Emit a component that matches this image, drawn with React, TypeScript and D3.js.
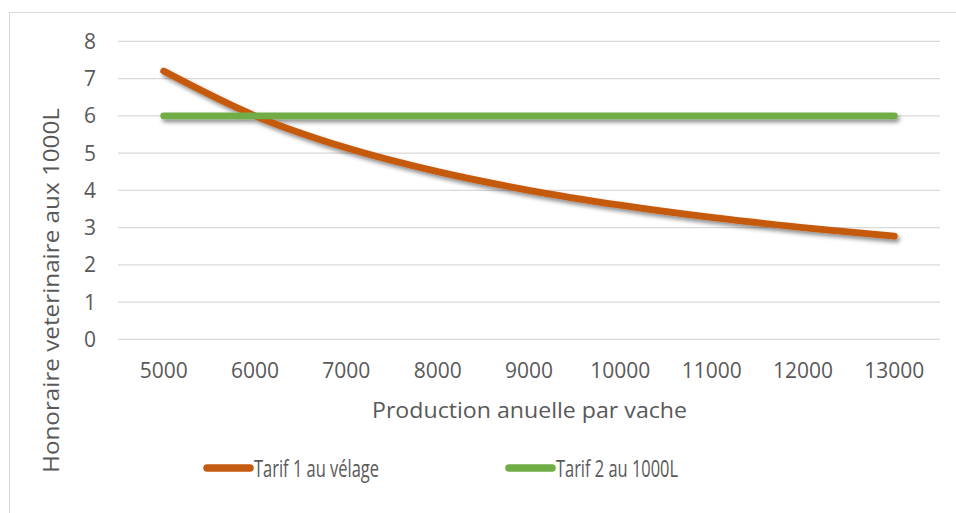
import React, { useEffect, useRef } from 'react';
import * as d3 from 'd3';

const productions = [5000, 6000, 7000, 8000, 9000, 10000, 11000, 12000, 13000];
const tarif1 = [7.2, 6.0, 5.14, 4.5, 4.0, 3.6, 3.27, 3.0, 2.77];
const tarif2 = [6, 6, 6, 6, 6, 6, 6, 6, 6];
const yTicks = [0, 1, 2, 3, 4, 5, 6, 7, 8];

const seriesNames = ['Tarif 1 au vélage', 'Tarif 2 au 1000L'];
const seriesColors = ['#C55A11', '#70AD47'];

const W = 956;
const H = 513;
const FONT = '"Open Sans", "Liberation Sans", sans-serif';
const TEXT = '#595959';

export default function App() {
  const svgRef = useRef<SVGSVGElement>(null);

  useEffect(() => {
    if (!svgRef.current) return;
    const svg = d3.select(svgRef.current);
    svg.selectAll('*').remove();

    const plot = { left: 118, right: 940, top: 41.3, bottom: 339.3 };

    const defs = svg.append('defs');
    const filter = defs.append('filter')
      .attr('id', 'shadow')
      .attr('x', '-10%').attr('y', '-30%')
      .attr('width', '120%').attr('height', '160%');
    filter.append('feDropShadow')
      .attr('dx', 2).attr('dy', 3)
      .attr('stdDeviation', 2.2)
      .attr('flood-color', '#000')
      .attr('flood-opacity', 0.45);

    // background + chart border
    svg.append('rect').attr('width', W).attr('height', H).attr('fill', '#fff');
    svg.append('rect')
      .attr('x', 9.5).attr('y', 12.5)
      .attr('width', 980).attr('height', 540)
      .attr('fill', 'none')
      .attr('stroke', '#D9D9D9')
      .attr('stroke-width', 1);

    const x = d3.scaleBand<number>()
      .domain(productions)
      .range([plot.left, plot.right]);
    const cx = (d: number) => (x(d) || 0) + x.bandwidth() / 2;

    const y = d3.scaleLinear()
      .domain([0, 8])
      .range([plot.bottom, plot.top]);

    // gridlines
    svg.append('g')
      .selectAll('line')
      .data(yTicks)
      .enter()
      .append('line')
      .attr('x1', plot.left).attr('x2', plot.right)
      .attr('y1', d => y(d)).attr('y2', d => y(d))
      .attr('stroke', '#D9D9D9')
      .attr('stroke-width', 1.3);

    // y tick labels
    svg.append('g')
      .selectAll('text')
      .data(yTicks)
      .enter()
      .append('text')
      .attr('x', 96)
      .attr('y', d => y(d))
      .attr('dy', '0.36em')
      .attr('text-anchor', 'end')
      .style('font-family', FONT)
      .style('font-size', '21px')
      .style('fill', TEXT)
      .text(d => d);

    // x tick labels
    svg.append('g')
      .selectAll('text')
      .data(productions)
      .enter()
      .append('text')
      .attr('x', d => cx(d))
      .attr('y', 378)
      .attr('text-anchor', 'middle')
      .style('font-family', FONT)
      .style('font-size', '21px')
      .style('fill', TEXT)
      .text(d => d);

    // axis titles
    svg.append('text')
      .attr('x', 372)
      .attr('y', 418)
      .attr('textLength', 315)
      .attr('lengthAdjust', 'spacingAndGlyphs')
      .style('font-family', FONT)
      .style('font-size', '22px')
      .style('fill', TEXT)
      .text('Production anuelle par vache');

    svg.append('text')
      .attr('transform', 'translate(59,473) rotate(-90)')
      .attr('textLength', 365)
      .attr('lengthAdjust', 'spacingAndGlyphs')
      .style('font-family', FONT)
      .style('font-size', '22px')
      .style('fill', TEXT)
      .text('Honoraire veterinaire aux 1000L');

    // lines
    const line = d3.line<number>()
      .x((_, i) => cx(productions[i]))
      .y(d => y(d))
      .curve(d3.curveCatmullRom.alpha(0.5));

    const lg = svg.append('g').attr('filter', 'url(#shadow)');
    [tarif1, tarif2].forEach((vals, i) => {
      lg.append('path')
        .datum(vals)
        .attr('d', line)
        .attr('fill', 'none')
        .attr('stroke', seriesColors[i])
        .attr('stroke-width', 6.8)
        .attr('stroke-linecap', 'round')
        .attr('stroke-linejoin', 'round');
    });

    // legend
    const legendX = [207, 509];
    const legendTextW = [125, 122];
    seriesNames.forEach((name, i) => {
      const g = svg.append('g');
      g.append('line')
        .attr('x1', legendX[i]).attr('x2', legendX[i] + 43)
        .attr('y1', 468).attr('y2', 468)
        .attr('stroke', seriesColors[i])
        .attr('stroke-width', 7.5)
        .attr('stroke-linecap', 'round');
      g.append('text')
        .attr('x', legendX[i] + 47)
        .attr('y', 476.5)
        .attr('textLength', legendTextW[i])
        .attr('lengthAdjust', 'spacingAndGlyphs')
        .style('font-family', FONT)
        .style('font-size', '23.5px')
        .style('fill', TEXT)
        .text(name);
    });
  }, []);

  return (
    <svg
      ref={svgRef}
      width={W}
      height={H}
      style={{ position: 'absolute', left: 0, top: 0, display: 'block' }}
    />
  );
}
